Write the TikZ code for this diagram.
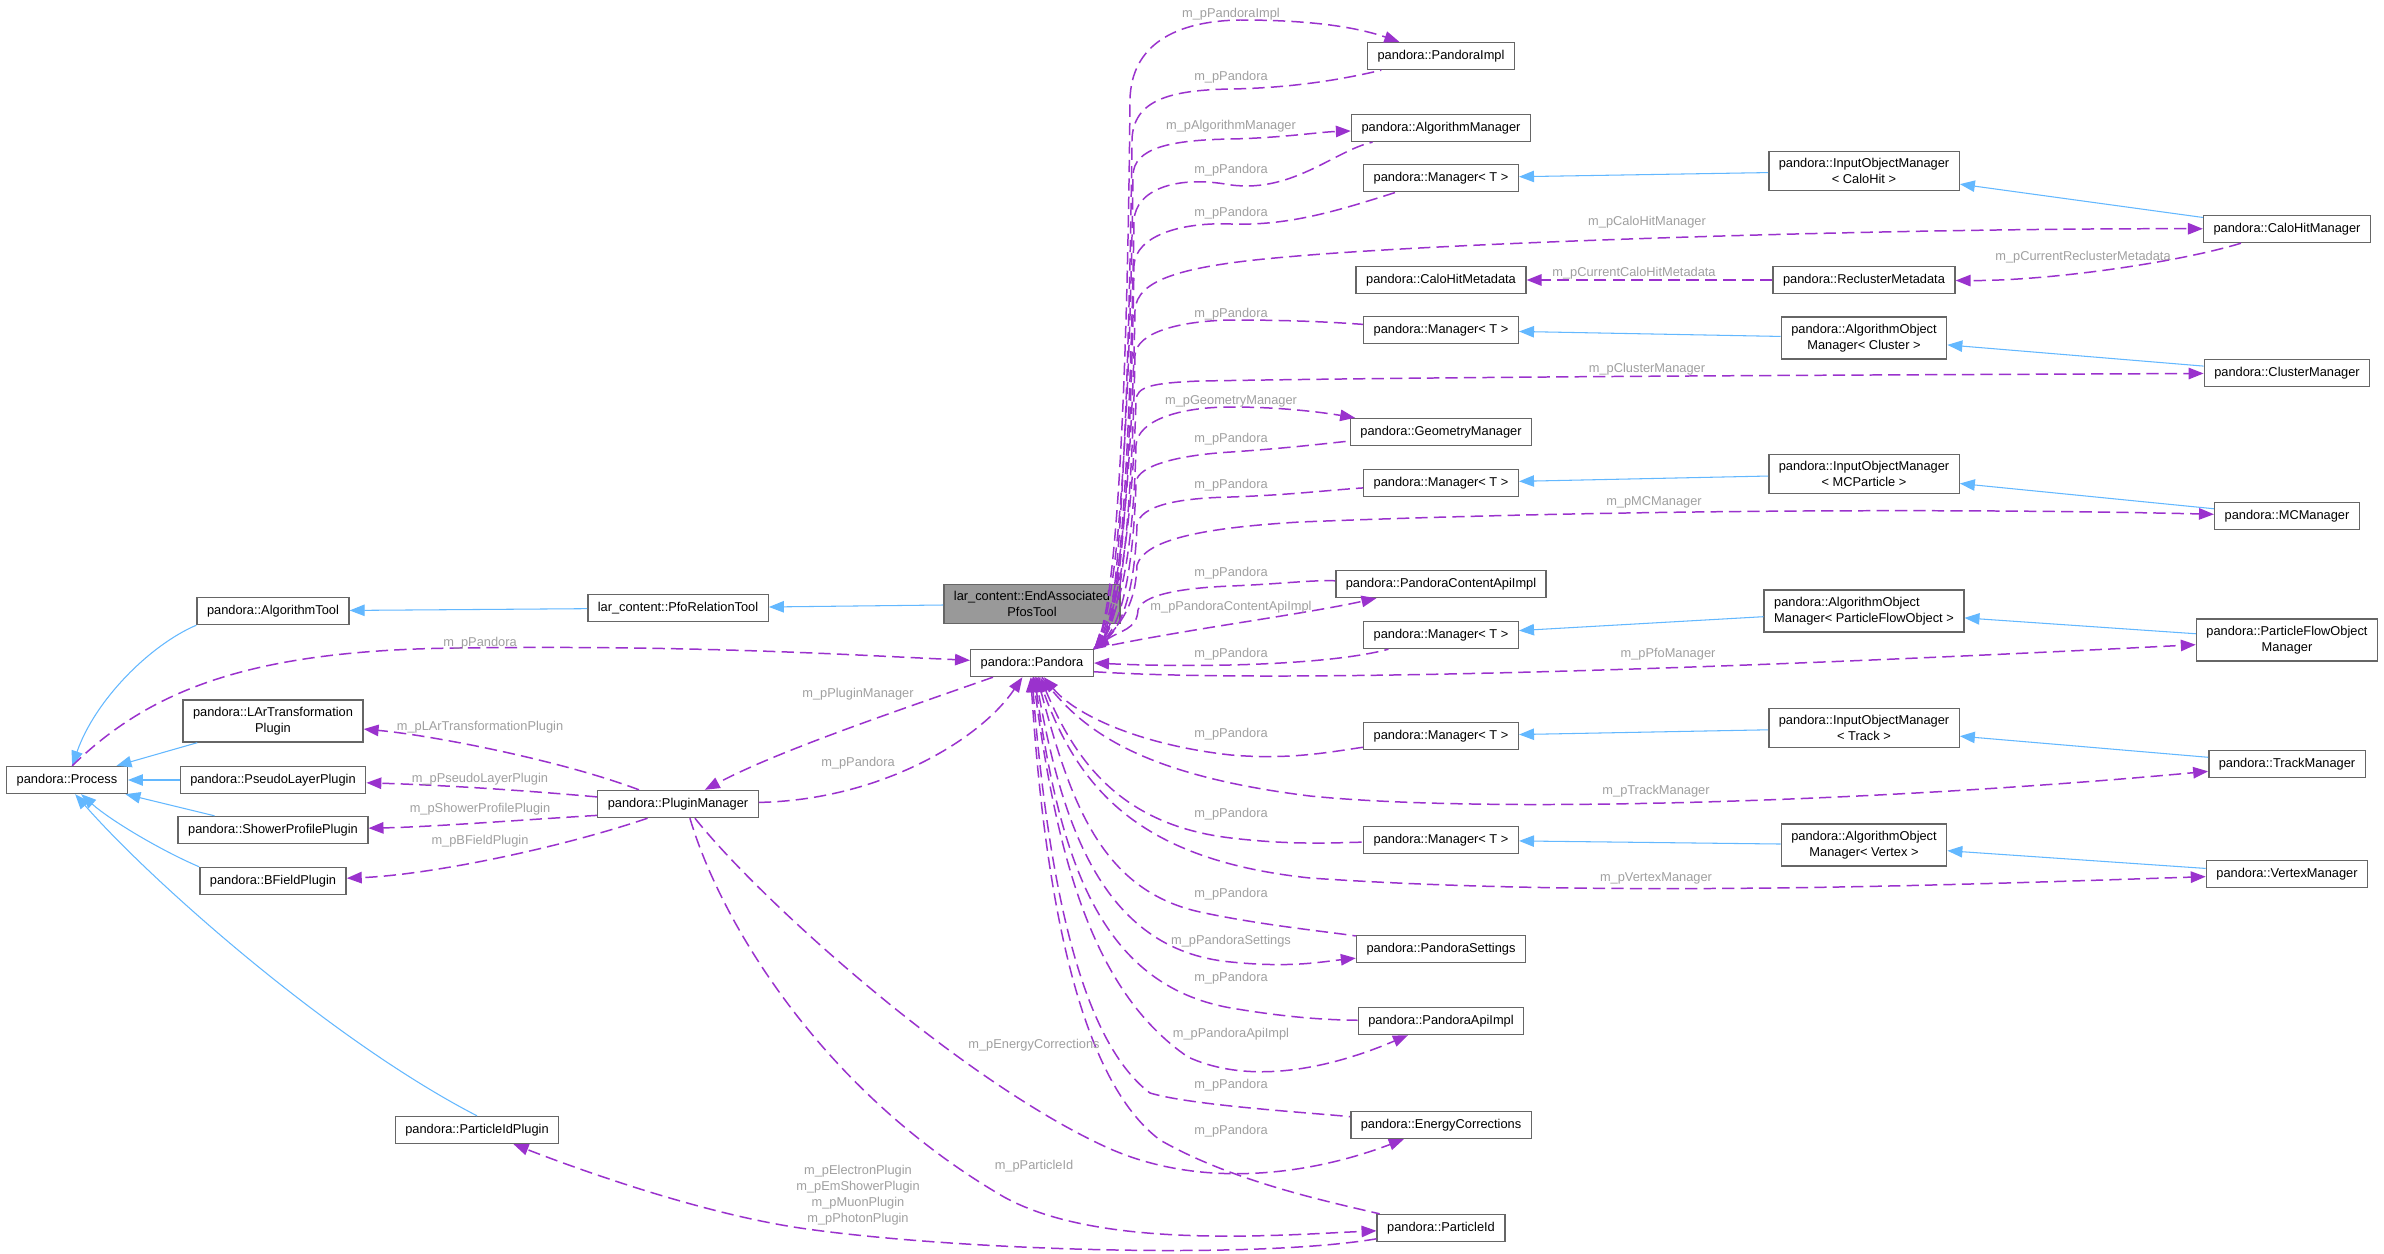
\documentclass[tikz,border=0pt]{standalone}
\usepackage{fontspec}
\setmainfont{Liberation Sans}
\usetikzlibrary{arrows.meta}
\definecolor{dxpurple}{RGB}{154,50,205}
\definecolor{dxblue}{RGB}{99,184,255}
\definecolor{dxframe}{RGB}{102,102,102}
\definecolor{dxfocus}{RGB}{153,153,153}
\definecolor{dxlabel}{RGB}{160,160,160}
\tikzstyle{cls} = [draw=dxframe, fill=white, line width=0.8pt, font=\fontsize{7.3}{9.1}\selectfont, inner xsep=0.2cm, inner ysep=4pt, minimum height=0.54cm, align=center]
\tikzstyle{focuscls} = [cls, fill=dxfocus]
\tikzstyle{lbl} = [text=dxlabel, font=\fontsize{7.3}{9.1}\selectfont, inner sep=0pt, align=center]
\tikzstyle{derive} = [dxblue, line width=0.6pt, -{Triangle[length=8.5pt,width=6.5pt]}]
\tikzstyle{uses} = [dxpurple, line width=0.85pt, dash pattern=on 7pt off 3.5pt, -{Triangle[length=8.5pt,width=6.5pt]}]
\tikzstyle{usedby} = [dxpurple, line width=0.85pt, dash pattern=on 7pt off 3.5pt, {Triangle[length=8.5pt,width=6.5pt]}-]

\begin{document}
\begin{tikzpicture}[x=0.02cm, y=-0.02cm]
\fill[white] (0,0) rectangle (2384,1254);
\useasboundingbox (0,0) rectangle (2384,1254);

% Tool hierarchy and plugins
\node[cls] (proc) at (67,780) {pandora::Process};
\node[cls] (algtool) at (273,611) {pandora::AlgorithmTool};
\node[cls] (pfort) at (678,608) {lar\_content::PfoRelationTool};
\node[focuscls] (eapt) at (1032,604) {lar\_content::EndAssociated\\PfosTool};
\node[cls] (lart) at (273,721) {pandora::LArTransformation\\Plugin};
\node[cls] (pslp) at (273,780) {pandora::PseudoLayerPlugin};
\node[cls] (shpp) at (273,830) {pandora::ShowerProfilePlugin};
\node[cls] (bfp) at (273,881) {pandora::BFieldPlugin};
\node[cls] (pidp) at (477,1130) {pandora::ParticleIdPlugin};
\node[cls] (plugm) at (678,804) {pandora::PluginManager};
\node[cls] (pandora) at (1032,663) {pandora::Pandora};

% Members of Pandora
\node[cls] (pimpl) at (1441,56) {pandora::PandoraImpl};
\node[cls] (algm) at (1441,128) {pandora::AlgorithmManager};
\node[cls] (mgrcalo) at (1441,178) {pandora::Manager< T >};
\node[cls] (chmd) at (1441,280) {pandora::CaloHitMetadata};
\node[cls] (mgrclus) at (1441,330) {pandora::Manager< T >};
\node[cls] (geom) at (1441,432) {pandora::GeometryManager};
\node[cls] (mgrmc) at (1441,483) {pandora::Manager< T >};
\node[cls] (pcapi) at (1441,584) {pandora::PandoraContentApiImpl};
\node[cls] (mgrpfo) at (1441,635) {pandora::Manager< T >};
\node[cls] (mgrtrk) at (1441,736) {pandora::Manager< T >};
\node[cls] (mgrvtx) at (1441,840) {pandora::Manager< T >};
\node[cls] (psett) at (1441,949) {pandora::PandoraSettings};
\node[cls] (papi) at (1441,1021) {pandora::PandoraApiImpl};
\node[cls] (ecorr) at (1441,1125) {pandora::EnergyCorrections};
\node[cls] (pid) at (1441,1228) {pandora::ParticleId};

% Object managers
\node[cls] (iomcalo) at (1864,171) {pandora::InputObjectManager\\< CaloHit >};
\node[cls] (reclus) at (1864,280) {pandora::ReclusterMetadata};
\node[cls] (aomclus) at (1864,338) {pandora::AlgorithmObject\\Manager< Cluster >};
\node[cls] (iommc) at (1864,474) {pandora::InputObjectManager\\< MCParticle >};
\node[cls, align=left] (aompfo) at (1864,611) {pandora::AlgorithmObject\\Manager< ParticleFlowObject >};
\node[cls] (iomtrk) at (1864,728) {pandora::InputObjectManager\\< Track >};
\node[cls] (aomvtx) at (1864,845) {pandora::AlgorithmObject\\Manager< Vertex >};
\node[cls] (calohm) at (2287,229) {pandora::CaloHitManager};
\node[cls] (clusm) at (2287,373) {pandora::ClusterManager};
\node[cls] (mcm) at (2287,516) {pandora::MCManager};
\node[cls] (pfom) at (2287,640) {pandora::ParticleFlowObject\\Manager};
\node[cls] (trkm) at (2287,764) {pandora::TrackManager};
\node[cls] (vtxm) at (2287,874) {pandora::VertexManager};

% Inheritance
\draw[derive] (eapt) -- (pfort);
\draw[derive] (pfort) -- (algtool);
\draw[derive] (algtool.south west) .. controls (150,645) and (95,700) .. (proc.70);
\draw[derive] (lart) -- (proc);
\draw[derive] (pslp) -- (proc);
\draw[derive] (shpp) -- (proc);
\draw[derive] (bfp.north west) .. controls (160,850) and (110,820) .. (proc.-45);
\draw[derive] (pidp.north) .. controls (330,1040) and (150,880) .. (proc.-60);
\draw[derive] (iomcalo) -- (mgrcalo);
\draw[derive] (calohm) -- (iomcalo);
\draw[derive] (aomclus) -- (mgrclus);
\draw[derive] (clusm) -- (aomclus);
\draw[derive] (iommc) -- (mgrmc);
\draw[derive] (mcm) -- (iommc);
\draw[derive] (aompfo) -- (mgrpfo);
\draw[derive] (pfom) -- (aompfo);
\draw[derive] (iomtrk) -- (mgrtrk);
\draw[derive] (trkm) -- (iomtrk);
\draw[derive] (aomvtx) -- (mgrvtx);
\draw[derive] (vtxm) -- (aomvtx);

% Left side members
\draw[uses] (proc.70) .. controls (150,690) and (250,650) .. (459,648) .. controls (700,645) and (850,655) .. (pandora);
\draw[uses] (pandora.-160) .. controls (900,710) and (780,750) .. (plugm);
\draw[uses] (plugm) .. controls (880,800) and (980,740) .. (pandora);
\draw[uses] (plugm.160) .. controls (560,760) and (430,735) .. (lart);
\draw[uses] (plugm.175) .. controls (520,790) and (440,785) .. (pslp);
\draw[uses] (plugm.-172) .. controls (520,820) and (430,827) .. (shpp);
\draw[uses] (plugm.-155) .. controls (560,848) and (430,875) .. (bfp);
\draw[uses] (plugm.-40) .. controls (760,900) and (960,1080) .. (1106,1147) .. controls (1200,1190) and (1310,1175) .. (ecorr);
\draw[uses] (plugm.-50) .. controls (720,920) and (820,1090) .. (1004,1197) .. controls (1100,1250) and (1280,1235) .. (pid);
\draw[uses] (pid) .. controls (1250,1260) and (950,1250) .. (800,1228) .. controls (700,1213) and (580,1170) .. (pidp);

% Upper bundle
\draw[uses] (pandora.north east) .. controls (1125,610) and (1129,200) .. (1130,100) .. controls (1131,45) and (1175,21) .. (1240,20) .. controls (1300,20) and (1350,25) .. (pimpl);
\draw[usedby] (pandora.north east) .. controls (1126,610) and (1131,220) .. (1132,140) .. controls (1133,100) and (1170,90) .. (1231,89) .. controls (1290,88) and (1340,80) .. (pimpl);
\draw[uses] (pandora.north east) .. controls (1127,610) and (1132,250) .. (1133,175) .. controls (1134,148) and (1170,140) .. (1231,139) .. controls (1280,138) and (1320,132) .. (algm);
\draw[usedby] (pandora.north east) .. controls (1127,610) and (1133,290) .. (1134,220) .. controls (1136,190) and (1175,176) .. (1225,184) .. controls (1290,196) and (1335,150) .. (algm);
\draw[usedby] (pandora.north east) .. controls (1128,610) and (1133,330) .. (1134,265) .. controls (1136,236) and (1180,222) .. (1231,224) .. controls (1290,226) and (1340,210) .. (mgrcalo);
\draw[uses] (pandora.north east) .. controls (1128,610) and (1134,370) .. (1135,310) .. controls (1137,280) and (1180,266) .. (1286,257) .. controls (1450,242) and (1900,228) .. (calohm);
\draw[usedby] (pandora.north east) .. controls (1129,610) and (1134,410) .. (1135,355) .. controls (1137,332) and (1180,321) .. (1231,320) .. controls (1290,320) and (1330,322) .. (mgrclus);
\draw[uses] (pandora.north east) .. controls (1129,610) and (1135,440) .. (1136,400) .. controls (1137,387) and (1150,383) .. (1200,381) .. controls (1500,376) and (1900,375) .. (clusm);
\draw[uses] (pandora.north east) .. controls (1130,615) and (1135,490) .. (1136,445) .. controls (1138,420) and (1180,407) .. (1231,407) .. controls (1280,407) and (1320,412) .. (geom);
\draw[usedby] (pandora.north east) .. controls (1130,615) and (1135,520) .. (1136,482) .. controls (1138,465) and (1180,455) .. (1231,452) .. controls (1290,448) and (1330,443) .. (geom);
\draw[usedby] (pandora.north east) .. controls (1131,620) and (1136,555) .. (1137,525) .. controls (1140,505) and (1180,498) .. (1231,497) .. controls (1290,495) and (1330,490) .. (mgrmc);
\draw[uses] (pandora.north east) .. controls (1131,620) and (1136,590) .. (1137,565) .. controls (1145,540) and (1200,528) .. (1300,522) .. controls (1600,510) and (1950,508) .. (mcm);
\draw[usedby] (pandora.north east) .. controls (1120,630) and (1137,630) .. (1138,610) .. controls (1142,595) and (1180,588) .. (1231,586) .. controls (1280,584) and (1310,580) .. (pcapi);
\draw[uses] (pandora.north east) .. controls (1180,630) and (1300,615) .. (pcapi);
\draw[usedby] (pandora.east) .. controls (1200,668) and (1330,665) .. (mgrpfo);
\draw[uses] (pandora.-8) .. controls (1300,685) and (1800,665) .. (pfom);

% Lower bundle
\draw[usedby] (pandora.-50) .. controls (1075,715) and (1140,745) .. (1231,755) .. controls (1290,760) and (1330,752) .. (mgrtrk);
\draw[uses] (pandora.-55) .. controls (1080,730) and (1140,775) .. (1310,796) .. controls (1500,815) and (1900,800) .. (trkm);
\draw[usedby] (pandora.-60) .. controls (1075,760) and (1120,825) .. (1231,838) .. controls (1290,845) and (1330,843) .. (mgrvtx);
\draw[uses] (pandora.-65) .. controls (1075,790) and (1140,860) .. (1310,878) .. controls (1600,898) and (1950,885) .. (vtxm);
\draw[usedby] (pandora.-70) .. controls (1070,800) and (1100,890) .. (1200,912) .. controls (1260,925) and (1330,932) .. (psett);
\draw[uses] (pandora.-75) .. controls (1060,820) and (1100,950) .. (1231,962) .. controls (1290,968) and (1320,962) .. (psett);
\draw[usedby] (pandora.-80) .. controls (1060,860) and (1100,985) .. (1231,1008) .. controls (1290,1018) and (1330,1020) .. (papi);
\draw[uses] (pandora.-85) .. controls (1055,850) and (1090,990) .. (1188,1057) .. controls (1260,1090) and (1350,1060) .. (papi);
\draw[usedby] (pandora.south) .. controls (1048,880) and (1080,1040) .. (1150,1093) .. controls (1190,1105) and (1300,1112) .. (ecorr);
\draw[usedby] (pandora.-95) .. controls (1045,900) and (1080,1080) .. (1160,1140) .. controls (1230,1180) and (1320,1200) .. (pid);

% Right side members
\draw[uses] (calohm) .. controls (2180,262) and (2050,281) .. (reclus);
\draw[uses] (reclus) -- (chmd);

% Labels
\node[lbl] (lproc) at (480,643) {m\_pPandora};
\node[lbl] (llart) at (480,727) {m\_pLArTransformationPlugin};
\node[lbl] (lpslp) at (480,779) {m\_pPseudoLayerPlugin};
\node[lbl] (lshpp) at (480,809) {m\_pShowerProfilePlugin};
\node[lbl] (lbfp) at (480,841) {m\_pBFieldPlugin};
\node[lbl] (lplugm) at (858,694) {m\_pPluginManager};
\node[lbl] (lpmpan) at (858,763) {m\_pPandora};
\node[lbl] (lecorr) at (1034,1045) {m\_pEnergyCorrections};
\node[lbl] (lpid) at (1034,1166) {m\_pParticleId};
\node[lbl] (lpidp) at (858,1195) {m\_pElectronPlugin\\m\_pEmShowerPlugin\\m\_pMuonPlugin\\m\_pPhotonPlugin};
\node[lbl] (lpimpl) at (1231,14) {m\_pPandoraImpl};
\node[lbl] (lpan1) at (1231,77) {m\_pPandora};
\node[lbl] (lalgm) at (1231,126) {m\_pAlgorithmManager};
\node[lbl] (lpan2) at (1231,170) {m\_pPandora};
\node[lbl] (lpan3) at (1231,213) {m\_pPandora};
\node[lbl] (lcalohm) at (1647,222) {m\_pCaloHitManager};
\node[lbl] (lchmd) at (1634,273) {m\_pCurrentCaloHitMetadata};
\node[lbl] (lreclus) at (2083,257) {m\_pCurrentReclusterMetadata};
\node[lbl] (lpan4) at (1231,314) {m\_pPandora};
\node[lbl] (lclusm) at (1647,369) {m\_pClusterManager};
\node[lbl] (lgeom) at (1231,401) {m\_pGeometryManager};
\node[lbl] (lpan5) at (1231,439) {m\_pPandora};
\node[lbl] (lpan6) at (1231,485) {m\_pPandora};
\node[lbl] (lmcm) at (1654,502) {m\_pMCManager};
\node[lbl] (lpan7) at (1231,573) {m\_pPandora};
\node[lbl] (lpcapi) at (1231,607) {m\_pPandoraContentApiImpl};
\node[lbl] (lpan8) at (1231,654) {m\_pPandora};
\node[lbl] (lpfom) at (1668,654) {m\_pPfoManager};
\node[lbl] (lpan9) at (1231,734) {m\_pPandora};
\node[lbl] (ltrkm) at (1656,791) {m\_pTrackManager};
\node[lbl] (lpan10) at (1231,814) {m\_pPandora};
\node[lbl] (lvtxm) at (1656,878) {m\_pVertexManager};
\node[lbl] (lpan11) at (1231,894) {m\_pPandora};
\node[lbl] (lpsett) at (1231,941) {m\_pPandoraSettings};
\node[lbl] (lpan12) at (1231,978) {m\_pPandora};
\node[lbl] (lpapi) at (1231,1034) {m\_pPandoraApiImpl};
\node[lbl] (lpan13) at (1231,1085) {m\_pPandora};
\node[lbl] (lpan14) at (1231,1131) {m\_pPandora};
\end{tikzpicture}
\end{document}
